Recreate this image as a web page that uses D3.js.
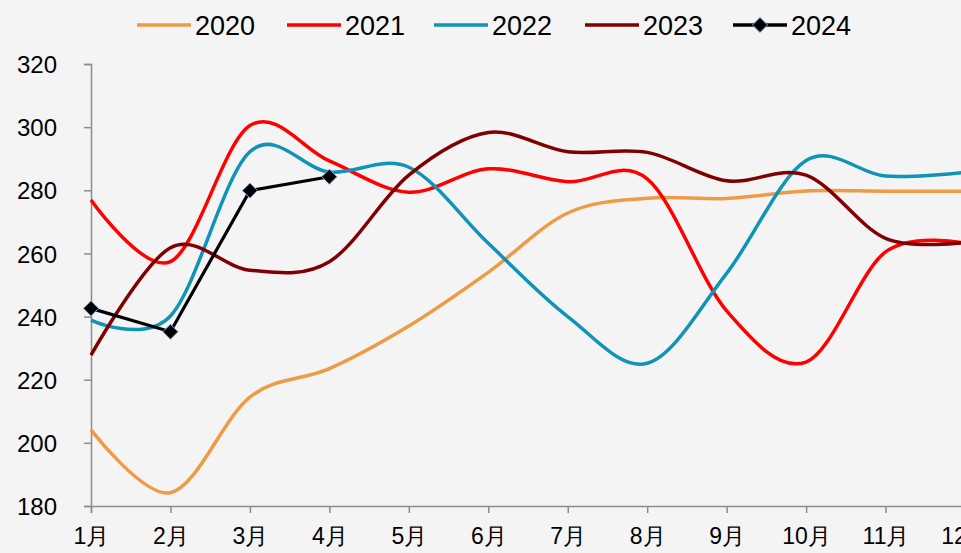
<!DOCTYPE html>
<html>
<head>
<meta charset="utf-8">
<script src="https://cdn.jsdelivr.net/npm/d3@7"></script>
<style>
  html, body { margin: 0; padding: 0; background: #f4f4f4; }
  svg { display: block; font-family: "Liberation Sans", Arial, "Noto Sans CJK SC", sans-serif; }
</style>
</head>
<body>
<div id="chart"></div>
<script>
// months and tick values
const months = ["1月","2月","3月","4月","5月","6月","7月","8月","9月","10月","11月","12月"]
const yTicks = [180, 200, 220, 240, 260, 280, 300, 320]
const seriesNames = ["2020", "2021", "2022", "2023", "2024"]

// values
const v2020 = [204.1, 184.2, 214.5, 223.5, 237, 254, 272.8, 277.5, 277.4, 279.8, 279.7, 279.7]
const v2021 = [276.9, 257.4, 300.5, 289.3, 279.4, 286.8, 282.7, 283.6, 241.8, 225.6, 260.5, 263.2]
const v2022 = [238.9, 240.2, 292.2, 285.8, 287.3, 263.2, 240, 225.2, 253.7, 289.4, 284.5, 285.7]
const v2023 = [227.8, 261.8, 254.7, 257.4, 284.8, 298.3, 292.2, 292, 283, 284.8, 264.8, 263.5]
const v2024 = [242.6, 235.2, 279.9, 284.3]

const colors = {"2020": "#ef9a45", "2021": "#ff0000", "2022": "#0f94b7", "2023": "#800000", "2024": "#000000"}

const width = 961, height = 553
const margin = {left: 91, top: 64, bottom: 47}

const svg = d3.select("#chart").append("svg")
   .attr("width", width).attr("height", height)

svg.append("rect").attr("width", width).attr("height", height).attr("fill", "#f4f4f4")

const x = d3.scalePoint().domain(months).range([margin.left, 965])
const y = d3.scaleLinear().domain([180, 320]).range([height - margin.bottom, margin.top])

// y axis
const yAxis = svg.append("g")
   .attr("transform", `translate(${margin.left},0)`)
   .call(d3.axisLeft(y).tickValues(yTicks).tickSize(7).tickPadding(27))
yAxis.selectAll("text").attr("font-size", 24).attr("fill", "#000").attr("dy", "0.36em")

// x axis
const xAxis = svg.append("g")
   .attr("transform", `translate(0,${y(180)})`)
   .call(d3.axisBottom(x).tickSize(7).tickPadding(15))
xAxis.selectAll("text").attr("font-size", 23).attr("fill", "#000")

svg.selectAll(".domain, .tick line").attr("stroke", "#8c8c8c").attr("stroke-width", 1.5)

const line = d3.line()
   .x((d, i) => x(months[i]))
   .y(d => y(d))

const smooth = line.curve(d3.curveCatmullRom.alpha(0))
const allSeries = [v2020, v2021, v2022, v2023]

allSeries.forEach((vals, i) => {
   svg.append("path")
      .attr("d", smooth(vals))
      .attr("fill", "none")
      .attr("stroke", colors[seriesNames[i]])
      .attr("stroke-width", 3.5)
      .attr("stroke-linejoin", "round")
})

// 2024 straight line with diamonds
const straight = d3.line().x((d, i) => x(months[i])).y(d => y(d))
svg.append("path")
   .attr("d", straight(v2024))
   .attr("fill", "none")
   .attr("stroke", "#000")
   .attr("stroke-width", 3.2)

const diamond = d3.symbol().type(d3.symbolDiamond2).size(145)
svg.selectAll(".mk").data(v2024).enter().append("path")
   .attr("class", "mk")
   .attr("d", diamond)
   .attr("transform", (d, i) => `translate(${x(months[i])},${y(d)})`)
   .attr("fill", "#000")
   .attr("stroke", "#6fa8dc")
   .attr("stroke-width", 1)

// legend
const legendX = [137, 287, 434, 585, 733]
const legend = svg.append("g")
seriesNames.forEach((name, i) => {
   const g = legend.append("g").attr("transform", `translate(${legendX[i]},25)`)
   g.append("line").attr("x1", 0).attr("x2", 54)
      .attr("stroke", colors[name]).attr("stroke-width", 3.5)
   if (name == "2024") {
      g.append("path").attr("d", diamond).attr("transform", "translate(27,0)")
         .attr("fill", "#000").attr("stroke", "#6fa8dc").attr("stroke-width", 1)
   }
   g.append("text").attr("x", 58).attr("y", 0).attr("dy", "0.36em")
      .attr("font-size", 27).text(name)
})
</script>
</body>
</html>
